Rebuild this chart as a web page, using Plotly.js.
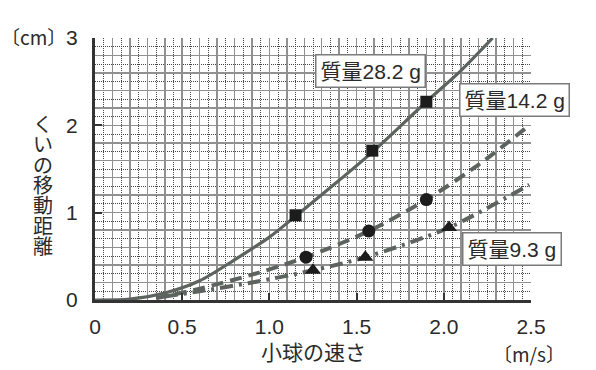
<!DOCTYPE html>
<html>
<head>
<meta charset="utf-8">
<script src="https://cdn.plot.ly/plotly-3.0.1.min.js"></script>
<style>html,body{margin:0;padding:0;background:#fff;}#chart{width:596px;height:370px;}</style>
</head>
<body>
<div id="chart"></div>
<script>
// ---- data ----
const xTickVals = [0, 0.5, 1.0, 1.5, 2.0, 2.5];
const xTickText = ['0', '0.5', '1.0', '1.5', '2.0', '2.5'];
const yTickVals = [0, 1, 2, 3];
const yTickText = ['0', '1', '2', '3'];

// 質量28.2 g (solid curve + squares)
const curve282X = [0, 0.2, 0.4, 0.6, 0.8, 1.0, 1.15, 1.4, 1.6, 1.9, 2.1, 2.28];
const curve282Y = [0, 0.01, 0.08, 0.22, 0.46, 0.72, 0.96, 1.37, 1.71, 2.27, 2.63, 3.0];
const pts282X = [1.15, 1.59, 1.9];
const pts282Y = [0.97, 1.71, 2.27];

// 質量14.2 g (dashed curve + circles)
const curve142X = [0.35, 0.6, 0.9, 1.21, 1.57, 1.9, 2.2, 2.49];
const curve142Y = [0.02, 0.13, 0.29, 0.49, 0.79, 1.15, 1.55, 2.0];
const pts142X = [1.21, 1.57, 1.9];
const pts142Y = [0.49, 0.79, 1.15];

// 質量9.3 g (dash-dot curve + triangles)
const curve93X = [0.4, 0.6, 0.9, 1.25, 1.55, 2.03, 2.49];
const curve93Y = [0.04, 0.1, 0.2, 0.34, 0.49, 0.83, 1.32];
const pts93X = [1.25, 1.55, 2.03];
const pts93Y = [0.34, 0.49, 0.83];

const labels = ['質量28.2 g', '質量14.2 g', '質量9.3 g'];
const xTitle = '小球の速さ';
const xUnit = '〔m/s〕';
const yTitle = 'くいの移動距離';
const yUnit = '〔cm〕';

// ---- styling ----
const FONT = 'Liberation Sans, Noto Sans CJK JP, sans-serif';
const CJK = 'Noto Sans CJK JP, sans-serif';
const TXT = '#2a2a2a';
const LINE = '#5d635f';
const MARK = '#1c1c1c';

// plot-area pixel helpers for placing text (plot: x 95..531, y 38..300)
const L = 95, B = 300, W = 436, H = 262;
const px2p = p => (p - L) / W;
const py2p = p => (B - p) / H;

const traces = [
  {x: [0], y: [0], xaxis: 'x2', yaxis: 'y2', mode: 'markers', marker: {opacity: 0}, hoverinfo: 'skip', showlegend: false},
  {x: curve282X, y: curve282Y, mode: 'lines', line: {color: LINE, width: 3.2, shape: 'spline', smoothing: 0.8}, showlegend: false},
  {x: curve142X, y: curve142Y, mode: 'lines', line: {color: LINE, width: 4, dash: '12px,7px', shape: 'spline', smoothing: 0.8}, showlegend: false},
  {x: curve93X, y: curve93Y, mode: 'lines', line: {color: LINE, width: 4, dash: '13px,6px,3px,6px', shape: 'spline', smoothing: 0.8}, showlegend: false},
  {x: pts282X, y: pts282Y, mode: 'markers', marker: {symbol: 'square', size: 12, color: MARK}, showlegend: false},
  {x: pts142X, y: pts142Y, mode: 'markers', marker: {symbol: 'circle', size: 13, color: MARK}, showlegend: false},
  {x: pts93X, y: pts93Y, mode: 'markers', marker: {symbol: 'triangle-up', size: 14, color: MARK}, showlegend: false}
];

const txtAnn = (txt, cx, cy, size, fam, anchor) => ({
  text: txt, x: px2p(cx), y: py2p(cy), xref: 'paper', yref: 'paper', showarrow: false,
  font: {family: fam || FONT, size: size, color: TXT}, xanchor: anchor || 'center', yanchor: 'middle'
});
const boxAnn = (txt, cx, cy) => Object.assign(txtAnn(txt, cx, cy, 21), {
  bgcolor: '#fff', bordercolor: '#7a7a7a', borderwidth: 1.5, borderpad: 4
});

const annotations = [
  boxAnn(labels[0], 370.5, 71),
  boxAnn(labels[1], 514, 99.5),
  boxAnn(labels[2], 511.5, 249.3),
  txtAnn(yUnit, 68, 36, 19, CJK, 'right'),
  txtAnn(xTitle, 313, 352, 21),
  txtAnn(xUnit, 529, 353, 19, CJK)
];
Array.from(yTitle).forEach((ch, i) => {
  annotations.push(txtAnn(ch, 43, 125 + 20.3 * i, 20));
});

const layout = {
  width: 596, height: 370,
  margin: {l: 95, r: 65, t: 38, b: 70, pad: 0},
  paper_bgcolor: '#fff', plot_bgcolor: '#fff',
  showlegend: false,
  font: {family: FONT, color: TXT},
  xaxis: {
    range: [0, 2.5], tickmode: 'array', tickvals: xTickVals, ticktext: xTickText,
    ticks: 'inside', ticklen: 7, tickwidth: 2, tickcolor: '#333',
    showgrid: false, zeroline: false, showline: true, linewidth: 3, linecolor: '#333',
    tickfont: {family: FONT, size: 21, color: TXT}, ticklabelstandoff: 6
  },
  yaxis: {
    range: [0, 3], tickmode: 'array', tickvals: yTickVals, ticktext: yTickText,
    ticks: 'inside', ticklen: 7, tickwidth: 2, tickcolor: '#333',
    showgrid: false, zeroline: false, showline: true, linewidth: 3, linecolor: '#333',
    tickfont: {family: FONT, size: 21, color: TXT}, ticklabelstandoff: 10
  },
  xaxis2: {
    overlaying: 'x', range: [0, 2.5], side: 'bottom', showticklabels: false, ticks: '',
    showgrid: true, tickmode: 'linear', tick0: 0, dtick: 0.1, gridcolor: '#909090', gridwidth: 1.5,
    minor: {tickmode: 'linear', tick0: 0, dtick: 0.05, showgrid: true, gridcolor: '#444', gridwidth: 1, griddash: '1px,1px'},
    zeroline: false, showline: false, layer: 'below traces'
  },
  yaxis2: {
    overlaying: 'y', range: [0, 3], side: 'left', showticklabels: false, ticks: '',
    showgrid: true, tickmode: 'linear', tick0: 0, dtick: 0.2, gridcolor: '#909090', gridwidth: 1.5,
    minor: {tickmode: 'linear', tick0: 0, dtick: 0.1, showgrid: true, gridcolor: '#444', gridwidth: 1, griddash: '1px,1px'},
    zeroline: false, showline: false, layer: 'below traces'
  },
  annotations: annotations
};

Plotly.newPlot('chart', traces, layout, {staticPlot: true, displayModeBar: false});
</script>
</body>
</html>
